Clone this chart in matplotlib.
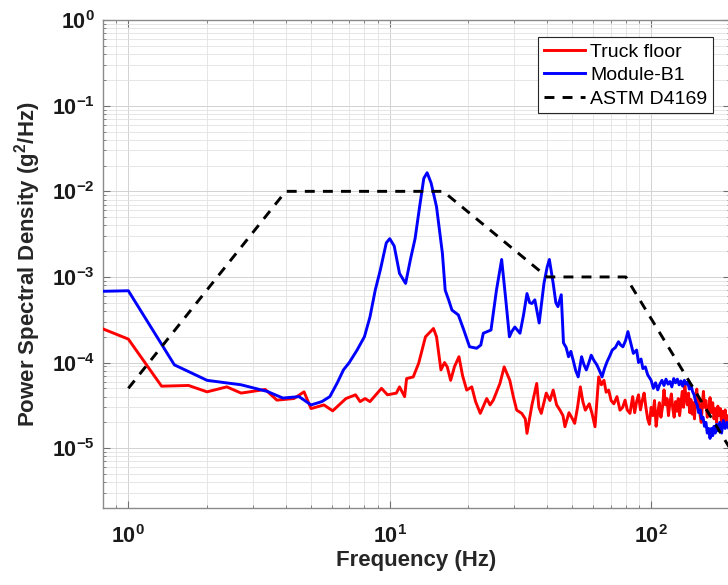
import numpy as np
import matplotlib
matplotlib.use('Agg')
import matplotlib.pyplot as plt

plt.rcParams['font.family'] = ['Liberation Sans', 'DejaVu Sans']
plt.rcParams['mathtext.fontset'] = 'custom'
plt.rcParams['mathtext.rm'] = 'Liberation Sans'
plt.rcParams['mathtext.bf'] = 'Liberation Sans:bold'

# Module-B1 (blue)
f_mod = [0.5, 1.0, 1.5, 2.0, 2.7, 3.4, 3.9, 4.5, 5.0, 5.5, 5.9, 6.3, 6.65, 7.0, 7.5, 8.0,
         8.4, 8.8, 9.2, 9.7, 10.0, 10.4, 10.9, 11.5, 12.0, 12.5, 13.0, 13.5, 13.9, 14.4,
         15.1, 15.9, 16.3, 16.8, 17.3, 18.3, 19.2, 20.2, 21.5, 22.3, 22.8, 24.4, 25.6,
         26.8, 27.7, 28.7, 29.3, 30.1, 31.5, 32.5, 33.5, 34.3, 35.0, 35.9, 37.3, 38.9,
         40.0, 40.8, 42.2, 43.2, 44.0, 45.3, 46.2, 47.3, 48.3, 49.3, 50.3, 51.5, 52.6,
         54.2, 55.3, 56.5, 57.8, 59.0, 60.5, 62.0, 63.5, 64.9, 66.3, 67.8, 69.5, 71.0,
         73.0, 75.0, 76.5, 78.0, 79.8, 81.5, 83.5, 85.5, 88.0, 89.5, 91.5, 93.0, 95.0,
         97.0,
         100, 102, 104, 106, 108, 110, 112, 114, 116, 118, 120, 122, 124, 126, 128, 130,
         132, 134, 136, 138, 140, 142, 144, 146, 148, 150, 152, 154, 156, 158, 160, 162,
         164, 166, 168, 170, 172, 174, 176, 178, 180, 183, 186, 189, 192, 195, 198, 200]
psd_mod = [6.6e-4, 6.9e-4, 9.4e-5, 6.2e-5, 5.5e-5, 4.6e-5, 3.85e-5, 4.0e-5, 3.2e-5, 3.5e-5,
           4.0e-5, 5.8e-5, 8.2e-5, 1.0e-4, 1.4e-4, 2.0e-4, 3.4e-4, 7.0e-4, 1.2e-3, 2.5e-3,
           2.8e-3, 2.3e-3, 1.1e-3, 8.4e-4, 1.6e-3, 2.8e-3, 6.5e-3, 1.42e-2, 1.65e-2, 1.25e-2,
           6.6e-3, 1.9e-3, 7.0e-4, 5.4e-4, 4.1e-4, 3.6e-4, 2.4e-4, 1.53e-4, 1.47e-4, 1.6e-4,
           2.2e-4, 2.4e-4, 7.0e-4, 1.6e-3, 6.0e-4, 2.0e-4, 2.3e-4, 2.6e-4, 2.2e-4, 3.6e-4,
           6.4e-4, 5.0e-4, 4.9e-4, 5.4e-4, 2.9e-4, 8.4e-4, 1.3e-3, 1.6e-3, 8.4e-4, 5.0e-4,
           4.5e-4, 6.2e-4, 1.7e-4, 1.5e-4, 1.17e-4, 1.35e-4, 1.07e-4, 8.0e-5, 6.8e-5,
           1.17e-4, 9.5e-5, 8.2e-5, 1.0e-4, 1.22e-4, 1.05e-4, 9.4e-5, 8.0e-5, 6.8e-5,
           8.5e-5, 1.02e-4, 1.2e-4, 1.4e-4, 1.5e-4, 1.75e-4, 1.6e-4, 1.53e-4, 1.8e-4,
           2.3e-4, 1.7e-4, 1.28e-4, 1.4e-4, 1.0e-4, 1.1e-4, 8.5e-5, 8.9e-5, 7.2e-5,
           6.2e-5, 5.0e-5, 5.8e-5, 4.8e-5, 5.6e-5, 6.2e-5, 5.4e-5, 6.4e-5, 5.6e-5, 6.0e-5,
           5.2e-5, 6.5e-5, 5.8e-5, 6.4e-5, 5.5e-5, 6.1e-5, 5.3e-5, 6.2e-5, 5.6e-5, 5.9e-5,
           4.9e-5, 5.5e-5, 4.6e-5, 4.2e-5, 3.5e-5, 3.2e-5, 2.6e-5, 2.8e-5, 2.2e-5, 2.3e-5,
           1.8e-5, 2.0e-5, 1.5e-5, 1.7e-5, 1.3e-5, 1.7e-5, 1.4e-5, 1.8e-5, 1.5e-5, 1.9e-5,
           1.6e-5, 2.0e-5, 1.5e-5, 2.1e-5, 1.7e-5, 2.0e-5, 1.7e-5, 1.9e-5]

# Truck floor (red)
f_truck = [0.5, 1.0, 1.34, 1.7, 2.0, 2.38, 2.7, 3.34, 3.7, 4.3, 4.7, 5.0, 5.6, 6.05, 6.8,
           7.4, 7.7, 8.05, 8.4, 9.3, 9.8, 10.6, 10.9, 11.4, 11.6, 12.3, 12.9, 13.7, 14.7,
           15.1, 15.7, 16.2, 16.6, 17.1, 17.7, 18.4, 19.0, 19.7, 20.6, 21.3, 22.2, 23.5,
           24.2, 24.9, 26.4, 27.4, 28.8, 29.7, 30.6, 32.0, 33.0, 33.5, 35.0, 36.5, 37.2,
           38.0, 39.7, 41.0, 42.2, 43.5, 44.8, 46.0, 46.8, 48.5, 50.0, 51.0, 52.3, 53.6,
           54.8, 56.0, 58.0, 59.5, 61.0, 63.0, 64.5, 66.0, 67.3, 68.8, 70.3, 72.0, 74.0,
           76.0, 77.8, 79.5, 81.0, 83.0,
           85.0, 86.5, 88.0, 89.5, 91.0, 92.5, 94.0, 95.5, 97.0, 98.5,
           100.0, 101.5, 103.0, 104.5, 106.0, 107.5, 109.0, 110.5, 112.0, 113.5,
           115.0, 116.5, 118.0, 119.5, 121.0, 122.5, 124.0, 125.5, 127.0, 128.5,
           130.0, 131.5, 133.0, 134.5, 136.0, 137.5, 139.0, 140.5, 142.0, 143.5,
           145.0, 146.5, 148.0, 149.5, 151.0, 152.5, 154.0, 155.5, 157.0, 158.5,
           160, 162, 164, 166, 168, 170, 172, 174, 176, 178, 180, 182, 184, 186, 188,
           190, 192, 194, 196, 198, 200]
psd_truck = [4.4e-4, 1.88e-4, 5.3e-5, 5.4e-5, 4.55e-5, 5.2e-5, 4.4e-5, 4.85e-5, 3.64e-5,
             3.8e-5, 4.55e-5, 2.9e-5, 3.2e-5, 2.73e-5, 3.8e-5, 4.2e-5, 3.5e-5, 3.8e-5,
             3.5e-5, 5.0e-5, 4.2e-5, 4.4e-5, 5.2e-5, 4.0e-5, 6.5e-5, 6.8e-5, 9.8e-5,
             2.0e-4, 2.5e-4, 2.0e-4, 8.2e-5, 1.0e-4, 8.9e-5, 6.2e-5, 9.0e-5, 1.17e-4,
             7.0e-5, 4.77e-5, 5.2e-5, 3.5e-5, 2.55e-5, 3.8e-5, 3.2e-5, 3.64e-5, 5.7e-5,
             8.9e-5, 6.2e-5, 4.0e-5, 2.78e-5, 2.55e-5, 2.2e-5, 1.49e-5, 3.2e-5, 5.7e-5,
             3.0e-5, 2.55e-5, 4.4e-5, 3.6e-5, 4.77e-5, 3.2e-5, 2.78e-5, 2.4e-5, 1.78e-5,
             2.6e-5, 2.2e-5, 1.95e-5, 3.0e-5, 5.2e-5, 3.5e-5, 2.78e-5, 3.3e-5, 2.5e-5,
             1.78e-5, 6.8e-5, 5.5e-5, 6.2e-5, 4.5e-5, 4.77e-5, 3.6e-5, 3.3e-5, 4.0e-5,
             2.78e-5, 3.0e-5, 3.64e-5, 2.8e-5, 2.55e-5,
             4.0e-5, 2.6e-5, 3.5e-5, 4.2e-5, 2.8e-5, 3.6e-5, 4.4e-5, 3.0e-5, 2.2e-5, 1.9e-5,
             3.0e-5, 2.4e-5, 3.6e-5, 1.8e-5, 2.6e-5, 3.4e-5, 2.3e-5, 3.0e-5, 4.8e-5, 3.2e-5,
             3.8e-5, 2.4e-5, 3.4e-5, 4.3e-5, 2.9e-5, 2.3e-5, 3.5e-5, 2.7e-5, 3.8e-5, 2.4e-5,
             3.3e-5, 4.6e-5, 3.0e-5, 5.6e-5, 3.8e-5, 3.2e-5, 4.4e-5, 2.6e-5, 3.7e-5, 2.5e-5,
             3.4e-5, 2.2e-5, 4.0e-5, 4.9e-5, 3.0e-5, 3.8e-5, 2.4e-5, 2.0e-5, 3.2e-5, 4.6e-5,
             3.0e-5, 3.6e-5, 2.3e-5, 2.8e-5, 3.9e-5, 2.6e-5, 3.4e-5, 2.2e-5, 2.9e-5, 2.0e-5,
             3.1e-5, 2.4e-5, 2.9e-5, 1.9e-5, 2.7e-5, 2.2e-5, 2.8e-5, 1.8e-5, 2.4e-5, 2.0e-5,
             2.3e-5]

# ASTM D4169 truck profile
f_astm = [1, 4, 16, 40, 80, 200]
psd_astm = [5e-5, 1e-2, 1e-2, 1e-3, 1e-3, 1e-5]

fig = plt.figure(figsize=(7.28, 5.85), dpi=100)
ax = fig.add_axes([0.1415, 0.1316, 0.861, 0.834])

ax.plot(f_truck, psd_truck, color='#ff0000', lw=2.1, label='Truck floor', zorder=3)
ax.plot(f_mod, psd_mod, color='#0000ff', lw=2.1, label='Module-B1', zorder=4)
ax.plot(f_astm, psd_astm, color='black', lw=2.1, dashes=(3.4, 2.8), label='ASTM D4169', zorder=5)

ax.set_xscale('log')
ax.set_yscale('log')
ax.set_xlim(0.8, 200)
ax.set_ylim(2e-6, 1)

ax.set_xticks([1, 10, 100])
ax.set_xticklabels([r'$\mathbf{10^{0}}$', r'$\mathbf{10^{1}}$', r'$\mathbf{10^{2}}$'])
yt = [1e-5, 1e-4, 1e-3, 1e-2, 1e-1, 1]
ax.set_yticks(yt)
ax.set_yticklabels([r'$\mathbf{10^{%d}}$' % e for e in [-5, -4, -3, -2, -1, 0]])

ax.grid(which='major', color='#d2d2d2', lw=0.7)
ax.grid(which='minor', color='#e2e2e2', lw=0.6)
ax.set_axisbelow(True)
ax.tick_params(which='both', direction='in', top=True, right=True, colors='#707070',
               labelcolor='#1a1a1a', labelsize=15.5)
ax.tick_params(which='major', length=5, width=0.8)
ax.tick_params(which='minor', length=2.5, width=0.6)
ax.tick_params(axis='x', pad=12)
ax.tick_params(axis='y', pad=6)
for s in ax.spines.values():
    s.set_color('#8a8a8a')
    s.set_linewidth(1.0)

ax.set_xlabel('Frequency (Hz)', fontsize=16, fontweight='bold', color='#262626', labelpad=2)
ax.set_ylabel(r'Power Spectral Density (g$^{\mathbf{2}}$/Hz)', fontsize=16,
              fontweight='bold', color='#262626', labelpad=6)

leg = ax.legend(loc='upper right', bbox_to_anchor=(0.973, 0.965), borderaxespad=0,
                fontsize=14, handlelength=2.1, handletextpad=0.25, borderpad=0.3,
                labelspacing=0.3, fancybox=False, framealpha=1, edgecolor='#262626')
leg.get_frame().set_linewidth(0.8)

plt.savefig('out.png', dpi=100)
